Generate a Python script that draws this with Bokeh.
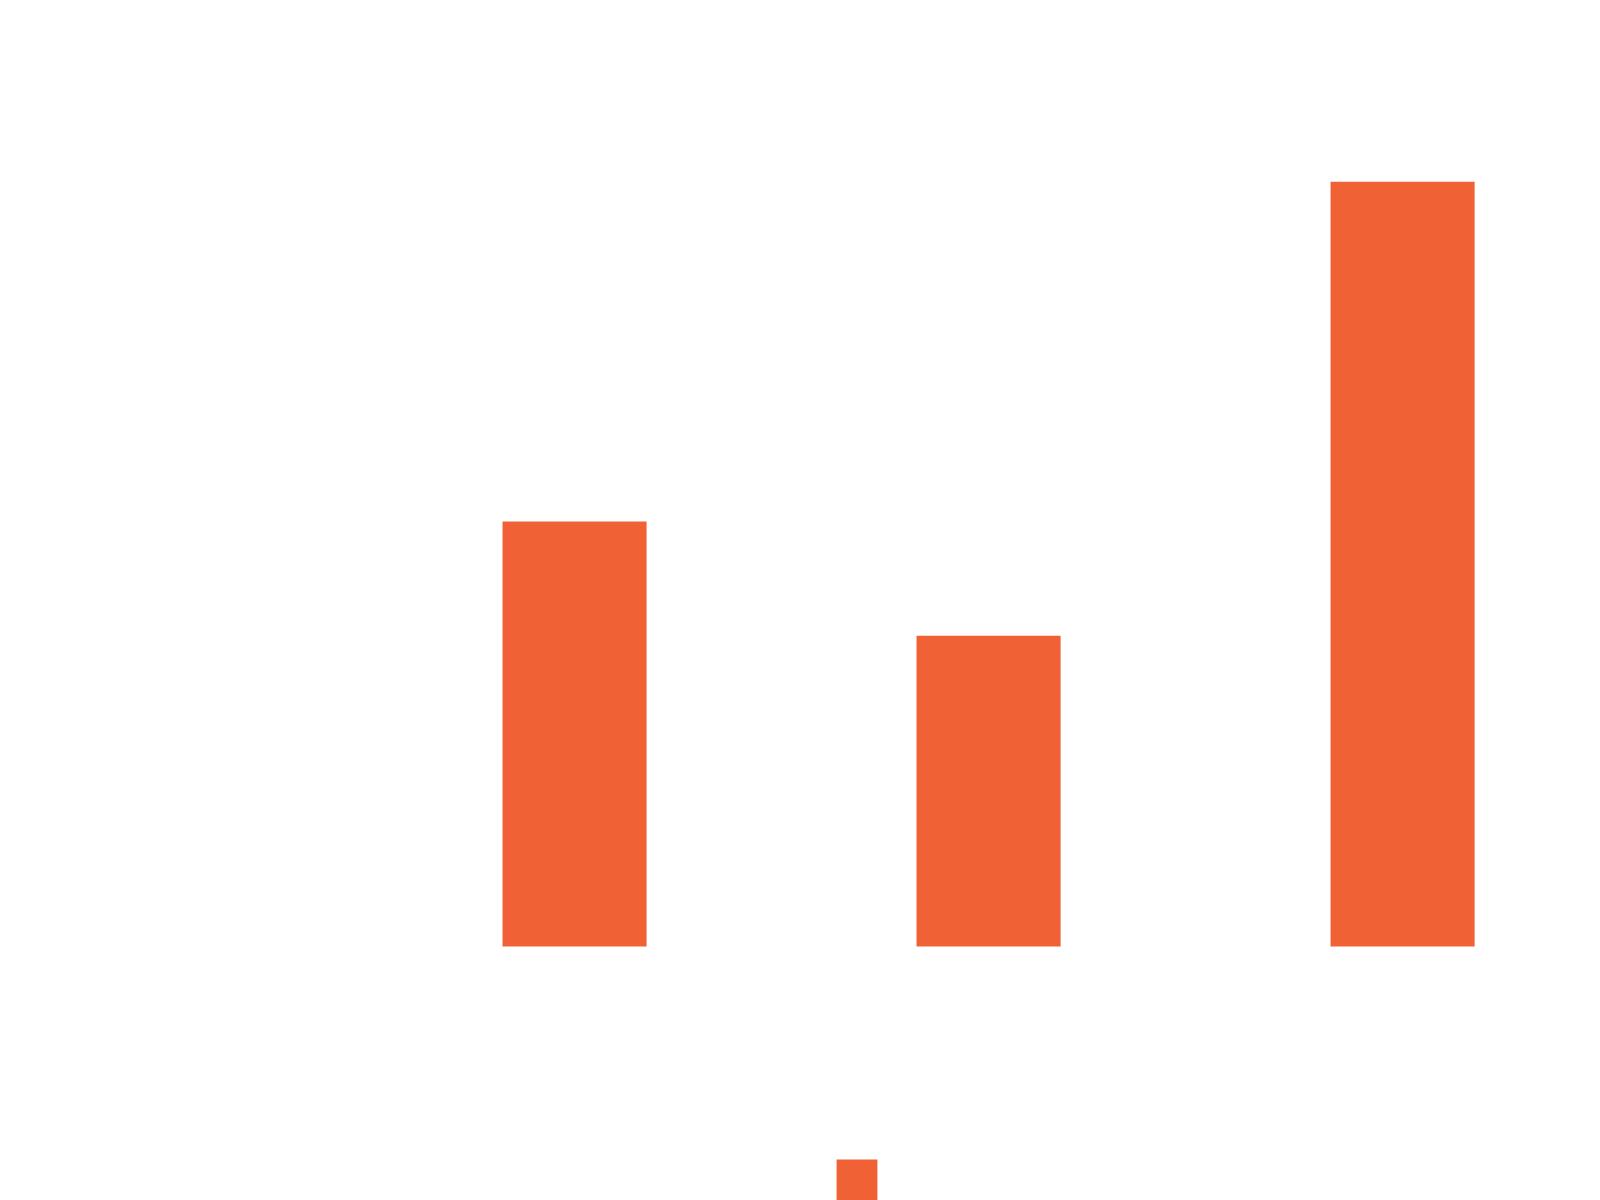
from bokeh.plotting import figure
from bokeh.models import Range1d, Legend, LegendItem, ColumnDataSource
from bokeh.embed import file_html
from bokeh.resources import INLINE

# Data (all text in the reference is white on white; labels are placeholders)
categories = ["A", "B", "C"]
values = [35.0, 25.6, 63.0]
series_name = "Series 1"
bar_color = "#F06236"

xpos = [i + 1 for i in range(len(categories))]
src = ColumnDataSource(dict(x=xpos, top=values, cat=categories))

W, H = 1600, 1200
p = figure(width=W, height=H, output_backend="svg", toolbar_location=None,
           x_range=Range1d(-0.3865, 3.478), y_range=Range1d(-20.92, 77.92),
           min_border=0, min_border_left=0, min_border_right=0,
           min_border_top=0, min_border_bottom=0)
p.outline_line_color = None
p.background_fill_color = "white"
p.border_fill_color = "white"
for ax in p.axis:
    ax.visible = False
p.xgrid.grid_line_color = None
p.ygrid.grid_line_color = "white"

r = p.vbar(x="x", top="top", bottom=0, width=0.348, source=src,
           fill_color=bar_color, line_color=None)

legend = Legend(items=[LegendItem(label=series_name, renderers=[r])],
                location=(831, -5), orientation="horizontal",
                glyph_width=51, glyph_height=51, padding=0, margin=0,
                label_text_color="white", label_text_font_size="16px",
                background_fill_alpha=0, border_line_color=None)
p.add_layout(legend, "center")

open("out.html", "w").write(file_html(p, INLINE))
